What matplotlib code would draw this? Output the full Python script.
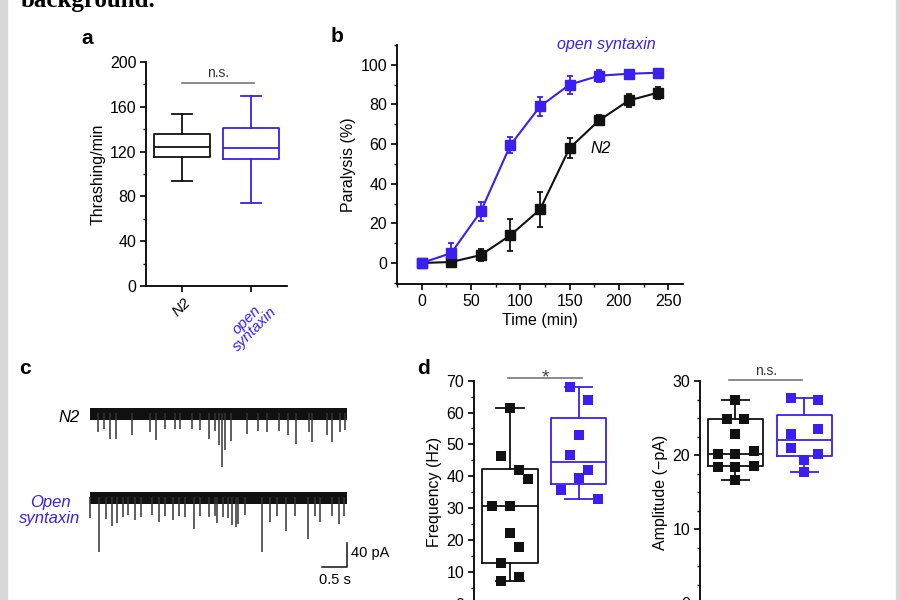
import matplotlib
matplotlib.use("Agg")
import matplotlib.pyplot as plt
from matplotlib.patches import Rectangle
from matplotlib.ticker import MultipleLocator

plt.rcParams["font.family"] = ["Liberation Sans", "DejaVu Sans"]
plt.rcParams["font.size"] = 11.5

BLUE = "#3b1ff0"
BLACK = "#111111"

# ---------------------------------------------------------------------------
# a: thrashing (box stats)
# ---------------------------------------------------------------------------
THRASH_GROUPS = ["N2", "open\nsyntaxin"]
THRASH_LO = [94, 74]
THRASH_Q1 = [115, 113]
THRASH_MED = [124, 123]
THRASH_Q3 = [136, 141]
THRASH_HI = [154, 170]

# ---------------------------------------------------------------------------
# b: paralysis time course
# ---------------------------------------------------------------------------
TIME_MIN = [0, 30, 60, 90, 120, 150, 180, 210, 240]
PARA_N2 = [0, 0.5, 4, 14, 27, 58, 72, 82, 86]
PARA_N2_ERR = [0, 0.5, 3, 8, 9, 5, 2.5, 3.5, 3]
PARA_OPEN = [0, 5, 26, 59.5, 79, 90, 94.5, 95.5, 96]
PARA_OPEN_ERR = [0, 5, 5, 4, 5, 4.5, 3, 1.5, 1.5]

# ---------------------------------------------------------------------------
# c: mini traces, events (time s, amplitude pA)
# ---------------------------------------------------------------------------
TRACE_SPAN = [0.0, 5.14]
N2_EV_T = [0.15, 0.27, 0.40, 0.51, 0.83, 1.20, 1.31, 1.50, 1.70, 1.80, 2.03,
           2.20, 2.38, 2.50, 2.57, 2.63, 2.70, 2.82, 3.13, 3.35, 3.53, 3.77,
           3.95, 4.11, 4.37, 4.43, 4.73, 4.83, 5.00, 5.09]
N2_EV_A = [31, 26, 44, 44, 36, 31, 45, 26, 27, 26, 26,
           29, 43, 30, 53, 90, 62, 47, 35, 30, 31, 30,
           37, 51, 31, 48, 37, 48, 31, 29]
OPEN_EV_T = [0.00, 0.17, 0.31, 0.43, 0.53, 0.65, 0.75, 0.89, 1.02, 1.23, 1.38,
             1.50, 1.65, 1.78, 1.90, 2.08, 2.20, 2.37, 2.50, 2.53, 2.65, 2.75,
             2.83, 2.91, 2.95, 3.09, 3.43, 3.60, 3.73, 3.91, 4.10, 4.35, 4.50,
             4.60, 4.83, 4.97, 5.07]
OPEN_EV_A = [35, 91, 37, 48, 43, 33, 30, 38, 34, 30, 41,
             31, 38, 31, 34, 54, 32, 34, 32, 43, 34, 35,
             47, 50, 45, 30, 91, 41, 32, 56, 32, 70, 32,
             41, 32, 45, 31]
OPEN_OFFSET = -140

# ---------------------------------------------------------------------------
# d: mEPSC frequency / amplitude
# ---------------------------------------------------------------------------
FREQ_N2 = [61.3, 46.4, 42.1, 39.1, 30.6, 30.6, 22.0, 17.6, 12.8, 7.2, 8.4]
FREQ_N2_DX = [0, -0.13, 0.13, 0.27, -0.26, 0, 0, 0.13, -0.13, -0.13, 0.13]
FREQ_OPEN = [67.9, 63.9, 52.8, 46.6, 42.1, 39.3, 35.7, 32.7]
FREQ_OPEN_DX = [-0.13, 0.13, 0, -0.13, 0.13, 0, -0.26, 0.28]
FREQ_BOX = [(7.2, 12.8, 30.6, 42.2, 61.3), (32.7, 37.4, 44.6, 58.4, 67.9)]

AMP_N2 = [27.4, 24.9, 24.9, 22.8, 20.2, 20.2, 20.5, 18.4, 18.4, 18.5, 16.6]
AMP_N2_DX = [0, -0.13, 0.13, 0, -0.26, 0, 0.27, -0.26, 0, 0.27, 0]
AMP_OPEN = [27.7, 27.5, 22.8, 23.5, 21.0, 20.2, 19.3, 17.7]
AMP_OPEN_DX = [-0.2, 0.2, -0.2, 0.2, -0.2, 0.2, 0, 0]
AMP_BOX = [(16.6, 18.5, 20.2, 24.9, 27.4), (17.7, 19.8, 22.0, 25.4, 27.7)]


def style_axes(ax):
    ax.spines[["top", "right"]].set_visible(False)
    for s in ("left", "bottom"):
        ax.spines[s].set_linewidth(1.3)
    ax.tick_params(which="major", direction="out", length=4.5, width=1.2, pad=2.5)
    ax.tick_params(which="minor", direction="out", length=2.5, width=1.0)


def draw_boxes(ax, stats, colors, capw, lw=1.3):
    st = [dict(whislo=s[0], q1=s[1], med=s[2], q3=s[3], whishi=s[4], fliers=[])
          for s in stats]
    art = ax.bxp(st, positions=[1, 2], widths=0.81, capwidths=capw,
                 showfliers=False, manage_ticks=False)
    for i, c in enumerate(colors):
        art["boxes"][i].set(color=c, linewidth=lw)
        art["medians"][i].set(color=c, linewidth=lw)
        for j in (2 * i, 2 * i + 1):
            art["whiskers"][j].set(color=c, linewidth=lw)
            art["caps"][j].set(color=c, linewidth=lw)


fig = plt.figure(figsize=(9, 6), dpi=100)
fig.patch.set_facecolor("white")
fig.patches.append(Rectangle((0, 0), 7 / 900, 1, transform=fig.transFigure,
                             color="#d8d8d8", zorder=0))
fig.patches.append(Rectangle((896 / 900, 0), 4 / 900, 1, transform=fig.transFigure,
                             color="#d8d8d8", zorder=0))
fig.text(21 / 900, 593 / 600, "background.", family="Liberation Serif",
         fontweight="bold", fontsize=18, va="baseline", ha="left")

# ---- a ----
ax_a = fig.add_axes([146 / 900, 314 / 600, 141 / 900, 224 / 600])
style_axes(ax_a)
draw_boxes(ax_a, list(zip(THRASH_LO, THRASH_Q1, THRASH_MED, THRASH_Q3, THRASH_HI)),
           [BLACK, BLUE], 0.3)
ax_a.set_xlim(0.48, 2.52)
ax_a.set_ylim(0, 200)
ax_a.yaxis.set_major_locator(MultipleLocator(40))
ax_a.yaxis.set_minor_locator(MultipleLocator(20))
ax_a.set_xticks([1, 2])
ax_a.set_xticklabels(THRASH_GROUPS, rotation=45, ha="center", va="top",
                     style="italic", multialignment="center", linespacing=0.8,
                     fontsize=11)
ax_a.get_xticklabels()[1].set_color(BLUE)
ax_a.set_ylabel("Thrashing/min", labelpad=3)
ax_a.plot([1, 2.04], [181.5, 181.5], color="#777777", lw=1.2, clip_on=False)
ax_a.text(1.52, 184, "n.s.", ha="center", va="bottom", fontsize=10, color="#333333")
fig.text(87 / 900, 562 / 600, "a", fontsize=15, fontweight="bold", ha="center", va="center")

# ---- b ----
ax_b = fig.add_axes([397 / 900, 316 / 600, 286 / 900, 239 / 600])
style_axes(ax_b)
ax_b.errorbar(TIME_MIN, PARA_N2, yerr=PARA_N2_ERR, color=BLACK, marker="s", ms=7.5,
              lw=1.5, capsize=2.5, elinewidth=1.3, capthick=1.3, clip_on=False)
ax_b.errorbar(TIME_MIN, PARA_OPEN, yerr=PARA_OPEN_ERR, color=BLUE, marker="s", ms=7.5,
              lw=1.5, capsize=2.5, elinewidth=1.3, capthick=1.3, clip_on=False)
ax_b.set_xlim(-25, 265)
ax_b.set_ylim(-10.6, 110)
ax_b.xaxis.set_major_locator(MultipleLocator(50))
ax_b.xaxis.set_minor_locator(MultipleLocator(25))
ax_b.yaxis.set_major_locator(MultipleLocator(20))
ax_b.yaxis.set_minor_locator(MultipleLocator(10))
ax_b.set_xlabel("Time (min)", labelpad=3)
ax_b.set_ylabel("Paralysis (%)", labelpad=3)
ax_b.text(171, 58, "N2", style="italic", ha="left", va="center", fontsize=11.5)
ax_b.text(187, 110, "open syntaxin", style="italic", color=BLUE, ha="center",
          va="center", fontsize=11.5, clip_on=False)
fig.text(337 / 900, 563 / 600, "b", fontsize=15, fontweight="bold", ha="center", va="center")

# ---- c ----
ax_c = fig.add_axes([80 / 900, 10 / 600, 300 / 900, 195 / 600])
ax_c.set_xlim(-0.2, 5.8)
ax_c.set_ylim(-295, 30)
ax_c.axis("off")
for off, ev_t, ev_a in ((0, N2_EV_T, N2_EV_A), (OPEN_OFFSET, OPEN_EV_T, OPEN_EV_A)):
    # noise band of the recording, then the read-off events
    ax_c.fill_between(TRACE_SPAN, off - 12, off + 8, color=BLACK, lw=0)
    ax_c.vlines(ev_t, off, [off - a for a in ev_a], color="#333333", lw=1.1)
ax_c.plot([4.64, 5.14, 5.14], [-256.7, -256.7, -216.7], color=BLACK, lw=1.1)
ax_c.text(5.22, -233, "40 pA", ha="left", va="center", fontsize=10.5)
ax_c.text(4.9, -278, "0.5 s", ha="center", va="center", fontsize=10.5)
ax_c.text(-0.2, -7, "N2", style="italic", ha="right", va="center", fontsize=12,
          clip_on=False)
ax_c.text(-0.8, -163, "Open\nsyntaxin", style="italic", color=BLUE, ha="center",
          va="center", fontsize=12, clip_on=False, linespacing=1.1)
fig.text(25 / 900, 232 / 600, "c", fontsize=15, fontweight="bold", ha="center", va="center")

# ---- d ----
ax_f = fig.add_axes([474 / 900, -3.5 / 600, 139 / 900, 222.8 / 600])
style_axes(ax_f)
draw_boxes(ax_f, FREQ_BOX, [BLACK, BLUE], 0.4)
ax_f.scatter([1 + d for d in FREQ_N2_DX], FREQ_N2, marker="s", s=55, color=BLACK,
             zorder=3, clip_on=False, lw=0)
ax_f.scatter([2 + d for d in FREQ_OPEN_DX], FREQ_OPEN, marker="s", s=55, color=BLUE,
             zorder=3, clip_on=False, lw=0)
ax_f.set_xlim(0.48, 2.5)
ax_f.set_ylim(0, 70)
ax_f.yaxis.set_major_locator(MultipleLocator(10))
ax_f.yaxis.set_minor_locator(MultipleLocator(5))
ax_f.set_xticks([])
ax_f.set_ylabel("Frequency (Hz)", labelpad=3)
ax_f.plot([0.98, 2.05], [70.7, 70.7], color="#777777", lw=1.2, clip_on=False)
ax_f.text(1.52, 69.6, "*", ha="center", va="baseline", fontsize=14, color="#444444")
fig.text(423 / 900, 232 / 600, "d", fontsize=15, fontweight="bold", ha="center", va="center")

ax_m = fig.add_axes([700 / 900, -3 / 600, 139 / 900, 222 / 600])
style_axes(ax_m)
draw_boxes(ax_m, AMP_BOX, [BLACK, BLUE], 0.4)
ax_m.scatter([1 + d for d in AMP_N2_DX], AMP_N2, marker="s", s=55, color=BLACK,
             zorder=3, clip_on=False, lw=0)
ax_m.scatter([2 + d for d in AMP_OPEN_DX], AMP_OPEN, marker="s", s=55, color=BLUE,
             zorder=3, clip_on=False, lw=0)
ax_m.set_xlim(0.486, 2.5)
ax_m.set_ylim(0, 30)
ax_m.yaxis.set_major_locator(MultipleLocator(10))
ax_m.yaxis.set_minor_locator(MultipleLocator(2.5))
ax_m.set_xticks([])
ax_m.set_ylabel("Amplitude (\u2212pA)", labelpad=3)
ax_m.plot([0.9, 1.97], [30.1, 30.1], color="#777777", lw=1.2, clip_on=False)
ax_m.text(1.45, 30.4, "n.s.", ha="center", va="bottom", fontsize=10, color="#333333")

fig.savefig("out.png", dpi=100, facecolor=fig.get_facecolor())
